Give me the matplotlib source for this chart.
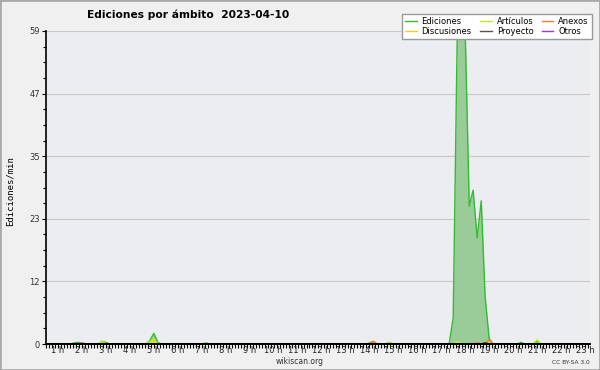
import matplotlib.pyplot as plt
import numpy as np
from matplotlib.patches import Rectangle

# edits per minute, 10-minute samples (hours since 00:00)
ed_hours = [0.0, 1.0, 1.17, 1.33, 1.5, 1.67, 2.17, 2.33, 2.5, 2.67, 4.17, 4.33, 4.5, 4.67, 4.83,
            6.5, 6.67, 6.83, 13.33, 13.5, 13.67, 13.83, 14.17, 14.33, 14.5, 16.83, 17.0, 17.17,
            17.33, 17.5, 17.67, 17.83, 18.0, 18.17, 18.33, 18.5, 18.67, 19.67, 19.83, 20.0,
            20.33, 20.5, 20.67, 22.71]
ed_values = [0, 0, 0.2, 0.3, 0.2, 0, 0, 0.5, 0.3, 0, 0, 0.6, 2.0, 0.3, 0,
             0, 0.2, 0, 0, 0.2, 0.5, 0, 0, 0.3, 0, 0, 5.0, 59,
             59, 59, 26, 29, 20, 27, 9, 1.0, 0, 0, 0.3, 0,
             0, 0.5, 0, 0]

art_hours = [0.0, 2.17, 2.33, 2.5, 4.17, 4.33, 4.5, 4.67, 14.17, 14.33, 14.5, 17.0, 17.17, 17.33,
             18.33, 18.5, 18.67, 20.33, 20.5, 20.67, 22.71]
art_values = [0, 0, 0.5, 0, 0, 0.4, 1.0, 0, 0, 0.3, 0, 0, 0.5, 0,
              0, 0.6, 0, 0, 0.8, 0, 0]

anx_hours = [0.0, 1.33, 1.5, 1.67, 13.5, 13.67, 13.83, 17.83, 18.0, 18.17, 18.33, 18.5, 18.67, 22.71]
anx_values = [0, 0, 0.2, 0, 0, 0.5, 0, 0, 0.3, 0, 0, 0.8, 0, 0]

dis_hours = [0.0, 4.33, 4.5, 4.67, 22.71]
dis_values = [0, 0, 0.5, 0, 0]

pro_hours = [0.0, 18.17, 18.33, 18.5, 22.71]
pro_values = [0, 0, 0.3, 0, 0]

otr_hours = [0.0, 22.71]
otr_values = [0, 0]

y_ticks = [0, 11.8, 23.6, 35.4, 47.2, 59]
y_labels = ['0', '12', '23', '35', '47', '59']
hour_labels = [str(h) + ' h' for h in range(1, 24)]

fig = plt.figure(figsize=(6, 3.7), dpi=100, facecolor='#f0f0f0')
ax = fig.add_axes([46/600, 1-344/370, 544/600, 313/370])
ax.set_facecolor('#ecedf0')

series = [
    ('Ediciones', ed_hours, ed_values, '#33bb33', '#99cc99', 1.0),
    ('Artículos', art_hours, art_values, '#bbee22', '#ccee66', 0.7),
    ('Anexos', anx_hours, anx_values, '#ff7733', '#ffaa77', 0.7),
    ('Discusiones', dis_hours, dis_values, '#ffcc22', '#ffdd77', 0.7),
    ('Proyecto', pro_hours, pro_values, '#555555', '#888888', 0.7),
    ('Otros', otr_hours, otr_values, '#9933ff', '#bb88ff', 0.7),
]
handles = {}
for name, hx, hy, lc, fc, a in series:
    ax.fill_between(hx, 0, hy, color=fc, alpha=a, lw=0)
    l, = ax.plot(hx, hy, color=lc, lw=1.0, label=name)
    handles[name] = l

ax.set_xlim(0, 22.71)
ax.set_ylim(0, 59)
ax.set_yticks(y_ticks)
ax.set_yticklabels(y_labels)
ax.set_yticks(np.arange(0, 59.01, 59/20), minor=True)
ax.yaxis.grid(True, color='#c8c8c8', lw=0.8)
ax.set_axisbelow(True)

ax.xaxis.remove_overlapping_locs = False
ax.set_xticks(np.arange(0, 22.71, 0.125))
ax.set_xticklabels([])
ax.set_xticks([h - 0.5 for h in range(1, 24)], minor=True)
ax.set_xticklabels(hour_labels, minor=True)
ax.tick_params(axis='x', which='major', length=3, width=0.8, direction='out', color='black')
ax.tick_params(axis='x', which='minor', length=0, pad=1.5, labelsize=6, labelcolor='#222222')
ax.tick_params(axis='y', which='major', length=3, width=0.8, labelsize=6, labelcolor='#333333', pad=1.5)
ax.tick_params(axis='y', which='minor', length=2.5, width=0.8)

for s in ['top', 'right']:
    ax.spines[s].set_visible(False)
ax.spines['left'].set_linewidth(1.2)
ax.spines['bottom'].set_linewidth(1.4)

ax.set_ylabel('Ediciones/min', family='DejaVu Sans Mono', fontsize=6.5)
ax.yaxis.set_label_coords(-0.057, 0.49)

order = ['Ediciones', 'Discusiones', 'Artículos', 'Proyecto', 'Anexos', 'Otros']
leg = fig.legend([handles[n] for n in order], order, loc='upper right',
                 bbox_to_anchor=(596/600, 1-10/370), ncol=3, fontsize=6,
                 handlelength=1.4, columnspacing=1.0, handletextpad=0.6,
                 labelspacing=0.1, borderpad=0.35, fancybox=False, framealpha=1,
                 edgecolor='#999999')
leg.get_frame().set_linewidth(1.0)

fig.text(188/600, 1-15/370, 'Ediciones por ámbito  2023-04-10', ha='center', va='center',
         fontsize=7.7, fontweight='bold')
fig.text(300/600, 1-361/370, 'wikiscan.org', ha='center', va='center', fontsize=5.5, color='#333333')
fig.text(590/600, 1-362/370, 'CC BY-SA 3.0', ha='right', va='center', fontsize=4.2, color='#333333')
fig.patches.append(Rectangle((0, 0), 1, 1, transform=fig.transFigure, fill=False,
                             edgecolor='#aaaaaa', lw=2))

fig.savefig('out.png', dpi=100, facecolor=fig.get_facecolor())
